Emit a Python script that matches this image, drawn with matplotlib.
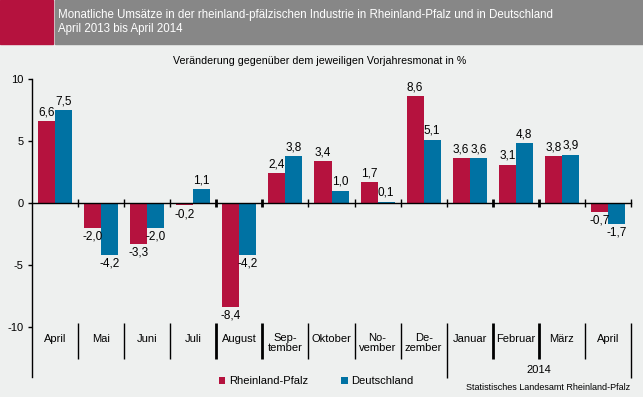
import matplotlib
matplotlib.use("Agg")
import matplotlib.pyplot as plt
from matplotlib.patches import Rectangle
from matplotlib.lines import Line2D
import numpy as np

plt.rcParams['font.family'] = ['Liberation Sans', 'DejaVu Sans']

# data
months = ["April", "Mai", "Juni", "Juli", "August", "Sep-\ntember", "Oktober",
          "No-\nvember", "De-\nzember", "Januar", "Februar", "März", "April"]
rlp = [6.6, -2.0, -3.3, -0.2, -8.4, 2.4, 3.4, 1.7, 8.6, 3.6, 3.1, 3.8, -0.7]
de = [7.5, -4.2, -2.0, 1.1, -4.2, 3.8, 1.0, 0.1, 5.1, 3.6, 4.8, 3.9, -1.7]
yticks = [-10, -5, 0, 5, 10]

RED = "#B5123E"
BLUE = "#0072A3"
BG = "#EEF0EF"
GRAY = "#878787"

W, H = 643, 397
fig = plt.figure(figsize=(W / 100, H / 100), dpi=100, facecolor=BG)


def fx(px):
    return px / W


def fy(py):
    return 1 - py / H


# header band
fig.patches.append(Rectangle((0, fy(44)), fx(53), 44 / H, transform=fig.transFigure,
                             color=RED, zorder=0))
fig.patches.append(Rectangle((fx(55), fy(44)), 1 - fx(55), 44 / H, transform=fig.transFigure,
                             color=GRAY, zorder=0))
fig.text(fx(58), fy(15), "Monatliche Umsätze in der rheinland-pfälzischen Industrie in Rheinland-Pfalz und in Deutschland",
         color="white", fontsize=8.3, va="center", ha="left")
fig.text(fx(58), fy(29), "April 2013 bis April 2014", color="white", fontsize=8.3, va="center", ha="left")
fig.text(fx(320), fy(61), "Veränderung gegenüber dem jeweiligen Vorjahresmonat in %",
         fontsize=7.7, va="center", ha="center")

# axes area in pixels
ax_left, ax_right, ax_top, ax_bottom = 32, 631, 79, 327
ax = fig.add_axes([fx(ax_left), fy(ax_bottom), fx(ax_right - ax_left), (ax_bottom - ax_top) / H])
ax.set_facecolor("none")

n = len(months)
x = np.arange(n)
bw = 0.37
ax.bar(x - bw / 2, rlp, bw, color=RED, label="Rheinland-Pfalz", zorder=2)
ax.bar(x + bw / 2, de, bw, color=BLUE, label="Deutschland", zorder=2)


def fmt(v):
    return f"{v:.1f}".replace(".", ",")


for xs, vals in ((x - bw / 2, rlp), (x + bw / 2, de)):
    for xi, v in zip(xs, vals):
        if v >= 0:
            ax.annotate(fmt(v), (xi, v), xytext=(0, 2), textcoords="offset points",
                        ha="center", va="bottom", fontsize=8.5)
        else:
            ax.annotate(fmt(v), (xi, v), xytext=(0, -2), textcoords="offset points",
                        ha="center", va="top", fontsize=8.5)

ax.set_xlim(-0.5, n - 0.5)
ax.set_ylim(-10, 10)
ax.set_yticks(yticks)
ax.set_yticklabels([str(t) for t in yticks], fontsize=8)
ax.tick_params(axis="y", direction="out", length=3, width=1, pad=3)

for s in ("top", "right", "left"):
    ax.spines[s].set_visible(False)
ax.spines["bottom"].set_position(("data", 0))
ax.spines["bottom"].set_linewidth(1)
bounds = np.arange(n + 1) - 0.5
ax.set_xticks(bounds[1:])
ax.set_xticklabels([])
ax.tick_params(axis="x", direction="inout", length=6, width=1)
thick = [3, 4, 9, 10]
for k, t in enumerate(ax.xaxis.get_major_ticks()):
    if k in thick:
        t.tick1line.set_markeredgewidth(2)


def ay(py):
    return (ax_bottom - py) / (ax_bottom - ax_top)


# y axis line extends into label area
fig.add_artist(Line2D([fx(ax_left), fx(ax_left)], [fy(ax_top), fy(377)], color="black", lw=1))

# separators in label area
xt = ax.get_xaxis_transform()
for k, b in enumerate(bounds[1:]):
    lw = 2 if k in thick else 1
    ymin = ay(378) if b in (8.5, 12.5) else ay(359)
    ax.plot([b, b], [ay(323), ymin], transform=xt, color="black", lw=lw, clip_on=False,
            solid_capstyle="butt")

for i, m in enumerate(months):
    if "\n" in m:
        ax.text(i, ay(333), m, transform=xt, ha="center", va="top", fontsize=8, linespacing=1.05)
    else:
        ax.text(i, ay(339), m, transform=xt, ha="center", va="center", fontsize=8)

ax.text(10.5, ay(370), "2014", transform=xt, ha="center", va="center", fontsize=8)

ax.legend(loc="center", bbox_to_anchor=(fx(316), fy(381)), bbox_transform=fig.transFigure,
          ncol=2, frameon=False, fontsize=8, handlelength=0.6, handleheight=0.6,
          handletextpad=0.3, columnspacing=3)

fig.text(fx(630), fy(388), "Statistisches Landesamt Rheinland-Pfalz", fontsize=6.5,
         ha="right", va="center")

fig.savefig("out.png", dpi=100, facecolor=BG)
